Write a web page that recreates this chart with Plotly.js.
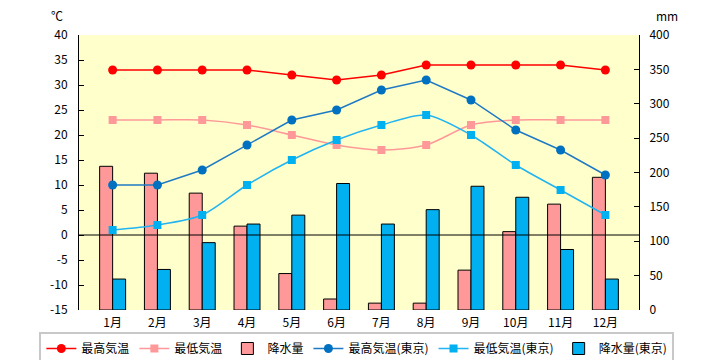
<!DOCTYPE html>
<html>
<head>
<meta charset="utf-8">
<script src="https://cdn.plot.ly/plotly-3.0.1.min.js"></script>
<style>html,body{margin:0;padding:0;background:#fff;}#chart{width:720px;height:360px;}</style>
</head>
<body>
<div id="chart"></div>
<script>
const months = ['1月','2月','3月','4月','5月','6月','7月','8月','9月','10月','11月','12月'];
const maxTemp = [33,33,33,33,32,31,32,34,34,34,34,33];
const minTemp = [23,23,23,22,20,18,17,18,22,23,23,23];
const precip = [209,199,170,122,53,16,10,10,58,114,154,193];
const maxTempTokyo = [10,10,13,18,23,25,29,31,27,21,17,12];
const minTempTokyo = [1,2,4,10,15,19,22,24,20,14,9,4];
const precipTokyo = [45,59,98,125,138,184,125,146,180,164,88,45];
const tempTicks = [-15,-10,-5,0,5,10,15,20,25,30,35,40];
const tempTickText = ['-15','-10','-5','0','5','10','15','20','25','30','35','40'];
const precipTicks = [0,50,100,150,200,250,300,350,400];

const FONT = '"Noto Sans CJK JP", "Noto Sans", sans-serif';

const traces = [
  {type:'scatter', mode:'lines+markers', name:'最高気温', x:months, y:maxTemp, yaxis:'y2',
   line:{color:'#FF0000', width:1.5}, marker:{color:'#FF0000', symbol:'circle', size:9}},
  {type:'scatter', mode:'lines+markers', name:'最低気温', x:months, y:minTemp, yaxis:'y2',
   line:{color:'#FF9999', width:1.5, shape:'spline', smoothing:0.8}, marker:{color:'#FF9999', symbol:'square', size:8}},
  {type:'bar', name:'降水量', x:months, y:precip, yaxis:'y',
   marker:{color:'#FF9999', line:{color:'#000000', width:1}}},
  {type:'scatter', mode:'lines+markers', name:'最高気温(東京)', x:months, y:maxTempTokyo, yaxis:'y2',
   line:{color:'#1F7AC4', width:1.5}, marker:{color:'#0070C0', symbol:'circle', size:9}},
  {type:'scatter', mode:'lines+markers', name:'最低気温(東京)', x:months, y:minTempTokyo, yaxis:'y2',
   line:{color:'#22B4F0', width:1.5, shape:'spline', smoothing:0.8}, marker:{color:'#00B0F0', symbol:'square', size:8}},
  {type:'bar', name:'降水量(東京)', x:months, y:precipTokyo, yaxis:'y',
   marker:{color:'#00B0F0', line:{color:'#000000', width:1}}}
];

const layout = {
  width:720, height:360,
  margin:{l:79, r:81, t:35, b:50, pad:0, autoexpand:false},
  paper_bgcolor:'#FFFFFF',
  plot_bgcolor:'#FFFFCC',
  font:{family:FONT, size:12, color:'#000000'},
  barmode:'group',
  bargap:0.42,
  bargroupgap:0,
  showlegend:true,
  legend:{orientation:'h', x:-0.0708, xanchor:'left', y:-0.08, yanchor:'top',
    bgcolor:'#FFFFFF', bordercolor:'#C8C8C8', borderwidth:2,
    font:{family:FONT, size:12, color:'#000000'}, itemwidth:30, traceorder:'normal'},
  xaxis:{type:'category', showgrid:false, zeroline:false, showline:false, ticks:'',
    tickfont:{family:FONT, size:12}, ticklabelstandoff:4, automargin:false},
  yaxis:{side:'right', range:[0,400], tickvals:precipTicks, showgrid:false, zeroline:false,
    showline:true, linecolor:'#000000', linewidth:1, ticks:'inside', ticklen:5, tickcolor:'#000000',
    tickfont:{family:FONT, size:12}, ticklabelstandoff:7, automargin:false},
  yaxis2:{overlaying:'y', side:'left', range:[-15,40], tickvals:tempTicks, ticktext:tempTickText,
    showgrid:false, zeroline:false, showline:true, linecolor:'#000000', linewidth:1,
    ticks:'inside', ticklen:5, tickcolor:'#000000', tickfont:{family:FONT, size:12},
    ticklabelstandoff:8, automargin:false},
  shapes:[
    {type:'line', xref:'paper', x0:0, x1:1, yref:'y2', y0:0, y1:0, layer:'above',
     line:{color:'#000000', width:1}}
  ],
  annotations:[
    {text:'℃', xref:'paper', yref:'paper', x:-0.04, y:1.07, xanchor:'center', yanchor:'middle',
     showarrow:false, font:{family:FONT, size:12}},
    {text:'mm', xref:'paper', yref:'paper', x:1.05, y:1.07, xanchor:'center', yanchor:'middle',
     showarrow:false, font:{family:FONT, size:12}}
  ]
};

Plotly.newPlot('chart', traces, layout, {displayModeBar:false, staticPlot:true});
</script>
</body>
</html>
